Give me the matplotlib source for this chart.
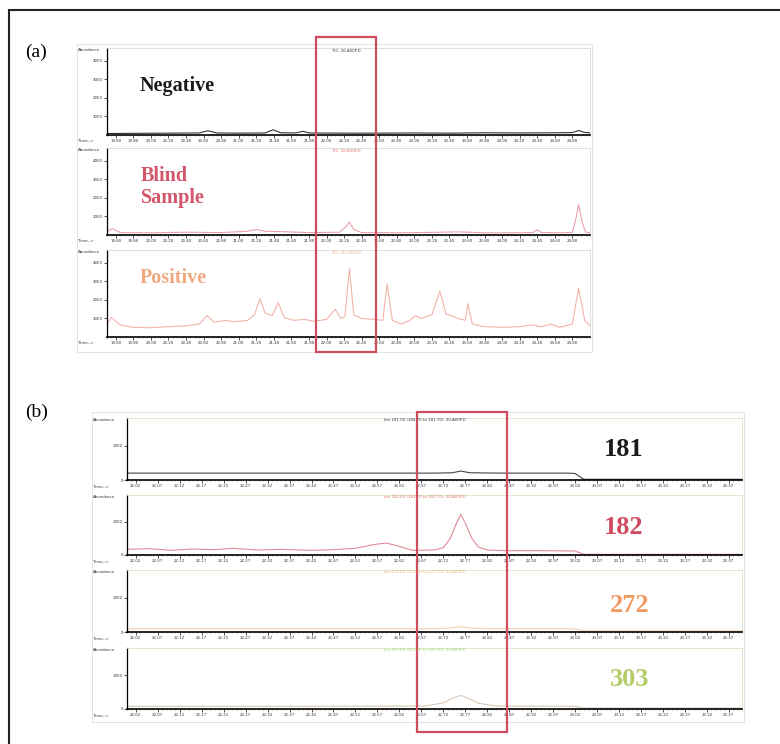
import matplotlib
matplotlib.use("Agg")
import matplotlib.pyplot as plt
import numpy as np
from matplotlib.patches import Rectangle

W, H = 780, 744

# ---- panel (a): total ion chromatograms (time in min, abundance) ----
neg_t = [19.50, 19.80, 20.20, 20.55, 20.65, 20.75, 21.00, 21.30, 21.39, 21.48, 21.65, 21.73,
         21.80, 22.20, 22.60, 23.00, 23.40, 23.80, 24.20, 24.60, 24.80, 24.87, 24.95, 25.00]
neg_y = [80, 90, 100, 110, 230, 110, 100, 110, 280, 120, 110, 200,
         110, 100, 100, 110, 100, 120, 110, 120, 130, 240, 130, 120]

blind_t = [19.50, 19.56, 19.65, 20.00, 20.40, 20.80, 21.10, 21.20, 21.30, 21.50, 21.80, 22.15,
           22.22, 22.26, 22.31, 22.40, 22.80, 23.20, 23.50, 23.80, 24.10, 24.35, 24.40, 24.45,
           24.70, 24.80, 24.84, 24.87, 24.91, 24.95, 25.00]
blind_y = [200, 350, 130, 120, 150, 130, 200, 300, 200, 180, 130, 150,
           450, 700, 300, 130, 120, 140, 170, 120, 120, 130, 280, 130,
           120, 140, 900, 1650, 700, 150, 130]

pos_t = [19.50, 19.55, 19.65, 19.80, 20.00, 20.20, 20.40, 20.55, 20.64, 20.72, 20.85, 20.95,
         21.10, 21.18, 21.24, 21.30, 21.38, 21.45, 21.52, 21.62, 21.75, 21.85, 22.00, 22.10,
         22.16, 22.21, 22.26, 22.31, 22.40, 22.55, 22.64, 22.69, 22.75, 22.85, 22.95, 23.01,
         23.08, 23.20, 23.29, 23.36, 23.50, 23.58, 23.61, 23.66, 23.80, 24.00, 24.20, 24.35,
         24.45, 24.55, 24.65, 24.80, 24.87, 24.94, 25.00]
pos_y = [700, 1050, 650, 520, 500, 560, 600, 700, 1150, 800, 900, 820,
         900, 1200, 2070, 1300, 1150, 1850, 1050, 900, 950, 850, 950, 1500,
         1000, 1100, 3700, 1200, 1000, 950, 900, 2860, 900, 700, 900, 1150,
         1000, 1200, 2490, 1250, 1000, 900, 1800, 700, 560, 520, 560, 650,
         550, 700, 520, 700, 2650, 900, 600]

# ---- panel (b): extracted ion chromatograms ----
b181_t = [22.00, 22.30, 22.60, 22.70, 22.74, 22.76, 22.78, 22.85, 23.00, 23.02, 23.04, 23.40]
b181_y = [200, 200, 200, 200, 210, 260, 210, 200, 200, 190, 20, 20]

b182_t = [22.00, 22.05, 22.10, 22.15, 22.20, 22.24, 22.30, 22.35, 22.42, 22.47, 22.52, 22.56,
          22.59, 22.62, 22.65, 22.70, 22.72, 22.735, 22.75, 22.76, 22.77, 22.785, 22.80, 22.82,
          22.87, 22.95, 23.02, 23.04, 23.40]
b182_y = [170, 190, 140, 180, 160, 200, 150, 170, 140, 160, 200, 310,
          360, 260, 140, 150, 220, 480, 950, 1220, 960, 500, 240, 150,
          130, 130, 120, 20, 20]

b272_t = [22.00, 22.40, 22.70, 22.74, 22.76, 22.78, 22.82, 23.02, 23.04, 23.40]
b272_y = [90, 90, 90, 120, 160, 120, 90, 90, 30, 30]

b303_t = [22.00, 22.40, 22.68, 22.72, 22.745, 22.76, 22.775, 22.80, 22.84, 23.02, 23.04, 23.40]
b303_y = [80, 80, 90, 180, 340, 400, 330, 170, 90, 80, 30, 30]

ions = ["181", "182", "272", "303"]
samples = ["Negative", "Blind\nSample", "Positive"]

fig = plt.figure(figsize=(W / 100, H / 100), dpi=100)
fig.patch.set_facecolor("white")


def fx(x):
    return x / W


def fy(y):
    return 1 - y / H


def rect(x0, y0, x1, y1):
    return [fx(x0), fy(y1), (x1 - x0) / W, (y1 - y0) / H]


def chrom(box, t, y, col, xlim, xticks, ylim, yticks, sepcol):
    ax = fig.add_axes(rect(*box))
    ax.plot(t, y, color=col, lw=0.8)
    ax.set_xlim(*xlim)
    ax.set_ylim(*ylim)
    ax.set_xticks(xticks)
    ax.set_xticklabels(["%.2f" % v for v in xticks])
    ax.set_yticks(yticks)
    ax.set_yticklabels([str(v) for v in yticks])
    ax.tick_params(labelsize=2.8, length=2, width=0.6, pad=1, colors="#333")
    ax.minorticks_on()
    ax.tick_params(which="minor", length=1, width=0.4, color="#666")
    ax.yaxis.set_tick_params(which="minor", length=0)
    for s in ["top", "right"]:
        ax.spines[s].set_color(sepcol)
        ax.spines[s].set_linewidth(0.6)
    ax.spines["left"].set_linewidth(0.9)
    ax.spines["bottom"].set_linewidth(1.2)
    return ax


# outer frame (cropped at right/bottom)
fig.patches.append(Rectangle((fx(9), fy(780)), fx(800), (780 - 10) / H, transform=fig.transFigure,
                             fill=False, ec="#222", lw=1.5))

# ---- panel (a) ----
a_xlim = (19.50, 25.00)
a_xt = list(np.arange(19.60, 24.90, 0.20))
a_boxes = [(107, 48, 590, 135), (107, 148, 590, 235), (107, 250, 590, 337)]
a_data = [(neg_t, neg_y, "#333333"), (blind_t, blind_y, "#e8a0a8"), (pos_t, pos_y, "#f2b4aa")]
a_hdr = ["TIC: 20-A00P.D", "TIC: 20-B00P.D", "TIC: 20-C00P.D"]
a_hdr_col = ["#333", "#e07060", "#f0b080"]
for box, (t, y, c), h, hc in zip(a_boxes, a_data, a_hdr, a_hdr_col):
    chrom(box, t, y, c, a_xlim, a_xt, (0, 4700), [1000, 2000, 3000, 4000], "#d8d8d8")
    fig.text(fx(78), fy(box[1] + 3), "Abundance", fontsize=2.8, color="#333")
    fig.text(fx(78), fy(box[3] + 6), "Time-->", fontsize=2.8, color="#333", va="center")
    fig.text(fx(346), fy(box[1] + 4), h, fontsize=2.8, color=hc, ha="center")

fig.patches.append(Rectangle((fx(77), fy(352)), (592 - 77) / W, (352 - 44) / H,
                             transform=fig.transFigure, fill=False, ec="#dddddd", lw=0.6))

serif = ["Liberation Serif", "DejaVu Serif"]
fig.text(fx(25), fy(52), "(a)", fontsize=14, family=serif, va="center")
fig.text(fx(140), fy(86), samples[0], fontsize=14.5, family=serif, weight="bold",
         color="#1a1a1a", va="center")
fig.text(fx(141), fy(187), samples[1], fontsize=14.5, family=serif, weight="bold",
         color="#d3566a", va="center", linespacing=1.15)
fig.text(fx(140), fy(278), samples[2], fontsize=14.5, family=serif, weight="bold",
         color="#f1a87e", va="center")

fig.patches.append(Rectangle((fx(316), fy(352)), (376 - 316) / W, (352 - 37) / H,
                             transform=fig.transFigure, fill=False, ec="#cf4d5c", lw=1.6))

# ---- panel (b) ----
b_xlim = (22.00, 23.40)
b_xt = list(np.arange(22.02, 23.38, 0.05))
b_boxes = [(127, 418, 742, 480), (127, 495, 742, 555), (127, 570, 742, 632), (127, 648, 742, 709)]
b_data = [(b181_t, b181_y, "#444444"), (b182_t, b182_y, "#e08a95"),
          (b272_t, b272_y, "#f6cfae"), (b303_t, b303_y, "#d8c8b8")]
b_hdr = ["Ion 181.00 (180.70 to 181.70): 20-A00P.D", "Ion 182.00 (181.70 to 182.70): 20-A00P.D",
         "Ion 272.00 (271.70 to 272.70): 20-A00P.D", "Ion 303.00 (302.70 to 303.70): 20-A00P.D"]
b_hdr_col = ["#333", "#e07068", "#f0b070", "#a8d070"]
for box, (t, y, c), h, hc in zip(b_boxes, b_data, b_hdr, b_hdr_col):
    chrom(box, t, y, c, b_xlim, b_xt, (0, 1800), [0, 1000], "#d6e6c8")
    fig.text(fx(93), fy(box[1] + 3), "Abundance", fontsize=2.8, color="#333")
    fig.text(fx(93), fy(box[3] + 7), "Time-->", fontsize=2.8, color="#333", va="center")
    fig.text(fx(425), fy(box[1] + 3), h, fontsize=2.8, color=hc, ha="center")

fig.patches.append(Rectangle((fx(92), fy(722)), (744 - 92) / W, (722 - 412) / H,
                             transform=fig.transFigure, fill=False, ec="#dddddd", lw=0.6))

fig.text(fx(25), fy(412), "(b)", fontsize=14, family=serif, va="center")
ion_cols = ["#1a1a1a", "#d04a5f", "#f09a62", "#b4cc66"]
ion_y = [450, 527, 605, 679]
ion_x = [624, 624, 630, 630]
for lab, c, yy, xx in zip(ions, ion_cols, ion_y, ion_x):
    fig.text(fx(xx), fy(yy), lab, fontsize=19, family=serif, weight="bold", color=c,
             ha="center", va="center")

fig.patches.append(Rectangle((fx(417), fy(732)), (507 - 417) / W, (732 - 412) / H,
                             transform=fig.transFigure, fill=False, ec="#cf4d5c", lw=1.6))

fig.savefig("out.png", dpi=100)
